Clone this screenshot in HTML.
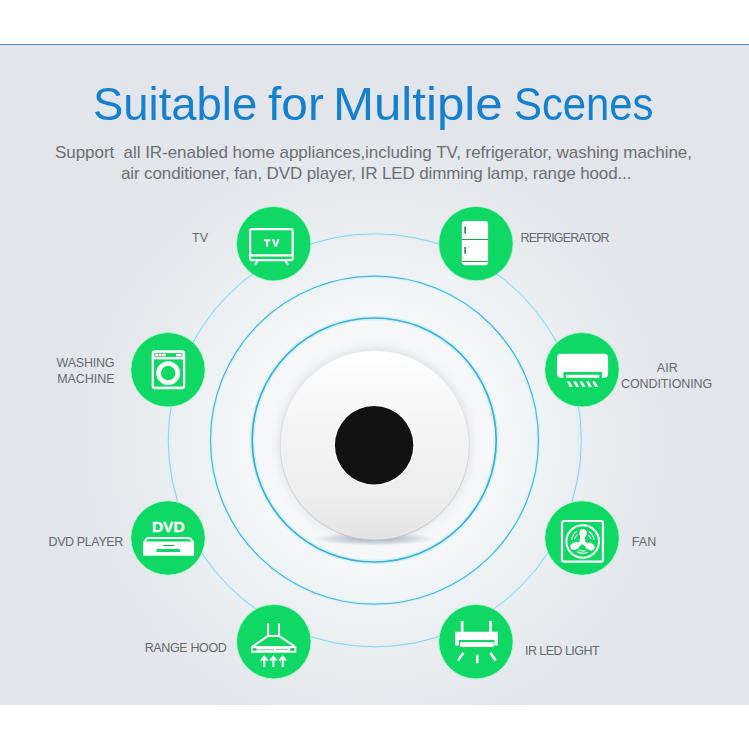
<!DOCTYPE html>
<html><head><meta charset="utf-8">
<style>
html,body{margin:0;padding:0;}
body{width:749px;height:749px;position:relative;overflow:hidden;background:#fff;font-family:"Liberation Sans",sans-serif;}
#band{position:absolute;left:0;top:44px;width:749px;height:661px;
 background:radial-gradient(circle at 374.5px 396px,#f7f9fa 0px,#f5f7f8 120px,#f0f3f5 165px,#eaeef0 210px,#e5e9ed 265px,#e2e6eb 330px);}
#line1{position:absolute;left:0;top:44px;width:749px;height:1px;background:#5a85a8;}
#line2{position:absolute;left:0;top:45px;width:749px;height:1px;background:#d2e9f6;}
svg{position:absolute;left:0;top:0;}
.t{position:absolute;white-space:nowrap;color:#157fd0;}
.tw{top:79px;font-size:46px;line-height:50px;transform-origin:0 0;}
.sub{position:absolute;white-space:nowrap;color:#6c6f72;font-size:17px;line-height:21px;}
.lab{position:absolute;white-space:nowrap;color:#66696c;font-size:12.5px;line-height:15px;}
</style></head><body>
<div id="band"></div>
<div id="line1"></div><div id="line2"></div>

<svg width="749" height="749" viewBox="0 0 749 749">
 <defs>
  <linearGradient id="disc" x1="0" y1="0" x2="0" y2="1">
   <stop offset="0" stop-color="#ffffff"/>
   <stop offset="0.35" stop-color="#f5f5f5"/>
   <stop offset="0.75" stop-color="#eeeeee"/>
   <stop offset="1" stop-color="#e4e4e4"/>
  </linearGradient>
  <radialGradient id="shadow" cx="50%" cy="50%" r="50%">
   <stop offset="0" stop-color="#7f98aa" stop-opacity="0.75"/>
   <stop offset="0.6" stop-color="#8ea5b5" stop-opacity="0.35"/>
   <stop offset="1" stop-color="#8ea5b5" stop-opacity="0"/>
  </radialGradient>
  <linearGradient id="rim" x1="0" y1="0" x2="0" y2="1">
   <stop offset="0" stop-color="#e6e6e6" stop-opacity="0.3"/>
   <stop offset="0.45" stop-color="#d4d4d4" stop-opacity="0.8"/>
   <stop offset="1" stop-color="#c2c2c2"/>
  </linearGradient>
  <filter id="blur6" x="-30%" y="-30%" width="160%" height="160%"><feGaussianBlur stdDeviation="5"/></filter>
 </defs>
 <!-- rings -->
 <g fill="none">
 <circle cx="374.8" cy="440.3" r="206.5" stroke="#d6f1fa" stroke-width="3"/>
 <circle cx="374.8" cy="440.3" r="206.5" stroke="#8ccbe6" stroke-width="0.9"/>
 <circle cx="374.5" cy="440.2" r="164" stroke="#d0f6fc" stroke-width="3.6"/>
 <circle cx="374.5" cy="440.2" r="164" stroke="#5caed2" stroke-width="1.2"/>
 <circle cx="374.2" cy="440" r="122" stroke="#cbf7fc" stroke-width="4.6"/>
 <circle cx="374.2" cy="440" r="122" stroke="#4aa9d2" stroke-width="1.7"/>
 </g>
 <!-- device -->
 <circle cx="374.7" cy="444.5" r="96" fill="#bcc2c7" opacity="0.4" filter="url(#blur6)"/>
 <ellipse cx="374.5" cy="538.8" rx="62" ry="6.5" fill="url(#shadow)"/>
 <circle cx="374.7" cy="445.4" r="94.6" fill="url(#disc)" stroke="url(#rim)" stroke-width="0.9"/>
 <circle cx="374.1" cy="445.3" r="40.4" fill="#ffffff"/>
 <circle cx="374.1" cy="445.3" r="39.2" fill="#121212"/>

 <!-- green circles -->
 <g fill="#10d865" stroke="#bdf6d6" stroke-width="0.8">
  <circle cx="273.7" cy="243.7" r="37.2"/>
  <circle cx="475.9" cy="243.6" r="37.2"/>
  <circle cx="168" cy="369.8" r="37.2"/>
  <circle cx="582" cy="369.8" r="37.2"/>
  <circle cx="168" cy="538" r="37.2"/>
  <circle cx="582" cy="538" r="37.2"/>
  <circle cx="273.8" cy="641.7" r="37.2"/>
  <circle cx="475.9" cy="641.7" r="37.2"/>
 </g>

 <!-- ICONS -->
 <g fill="none" stroke="#ffffff" stroke-linecap="butt">
  <!-- TV -->
  <rect x="250.1" y="229.2" width="42.6" height="31.0" rx="2" stroke-width="2.2"/>
  <line x1="250.1" y1="255.3" x2="292.7" y2="255.3" stroke-width="2.2"/>
  <line x1="257.5" y1="261" x2="254.9" y2="264.9" stroke-width="2"/>
  <line x1="285.3" y1="261" x2="288.1" y2="264.9" stroke-width="2"/>
 </g>
 <path fill="#fff" d="M263.9,239.3 H270.4 V241.3 H268.2 V246.6 H266.1 V241.3 H263.9 Z"/>
 <path fill="#fff" d="M271.9,239.3 H274.2 L275.75,244 L277.3,239.3 H279.6 L276.9,246.6 H274.6 Z"/>

 <!-- Fridge -->
 <rect x="461.8" y="220.9" width="26.3" height="44.3" rx="3" fill="#fff"/>
 <rect x="461.8" y="238.9" width="26.3" height="1.1" fill="#2e9a5a"/>
 <rect x="462.5" y="260.9" width="25" height="1.1" fill="#2e9a5a"/>
 <rect x="464.2" y="226.4" width="1.8" height="7.2" fill="#3d9a62"/>
 <rect x="464.2" y="247" width="1.8" height="6.8" fill="#3d9a62"/>

 <!-- Washing machine -->
 <rect x="152.8" y="351.5" width="31.3" height="36.6" rx="2" fill="none" stroke="#fff" stroke-width="2.3"/>
 <rect x="152.8" y="357.2" width="31.3" height="2.2" fill="#fff"/>
 <rect x="152.8" y="386.6" width="31.3" height="1.8" fill="#fff"/>
 <rect x="153.8" y="352.6" width="29.4" height="4.7" fill="#fff"/>
 <g fill="#4aa672">
  <rect x="154.6" y="353.1" width="27.8" height="0.7"/>
  <rect x="154.6" y="356.1" width="27.8" height="0.7"/>
  <rect x="154.6" y="353.1" width="0.7" height="3.7"/>
  <rect x="158.1" y="353.1" width="0.6" height="3.7"/>
  <rect x="161.5" y="353.1" width="0.6" height="3.7"/>
  <rect x="181.7" y="353.1" width="0.7" height="3.7"/>
 </g>
 <rect x="165.6" y="353.4" width="10.4" height="3.2" fill="#10d865"/>
 <circle cx="168.2" cy="373.1" r="9.6" fill="none" stroke="#fff" stroke-width="4.7"/>

 <!-- AC -->
 <path fill="#fff" fill-rule="evenodd" d="M561,353.8 H604.1 Q608.1,353.8 608.1,357.8 V373.8 Q608.1,377.8 604.1,377.8 H601.9 V371.9 H563.4 V377.8 H561 Q557,377.8 557,373.8 V357.8 Q557,353.8 561,353.8 Z"/>
 <rect x="566.2" y="374.8" width="33.1" height="3" fill="#fff"/>
 <g fill="#fff">
  <polygon points="566.8,381.5 569.7,381.5 572.7,387.1 569.8,387.1"/>
  <polygon points="573.2,381.5 576.1,381.5 579.1,387.1 576.2,387.1"/>
  <polygon points="579.6,381.5 582.5,381.5 585.5,387.1 582.6,387.1"/>
  <polygon points="586.0,381.5 588.9,381.5 591.9,387.1 589.0,387.1"/>
  <polygon points="592.2,381.5 595.1,381.5 598.1,387.1 595.2,387.1"/>
  </g>

 <!-- DVD -->
 <text x="151.9" y="532.1" fill="#fff" stroke="#fff" stroke-width="0.3" font-family="Liberation Sans" font-weight="bold" font-size="15.5" textLength="32.8" lengthAdjust="spacingAndGlyphs">DVD</text>
 <path fill="#fff" d="M148.5,537.1 H188.6 Q190.5,537.1 191.6,538.6 L194.1,541.7 V555.7 H143.1 V541.7 L145.6,538.6 Q146.7,537.1 148.5,537.1 Z"/>
 <path fill="#10d865" d="M149,538.9 H188.2 Q189.5,538.9 190.3,539.9 L191.6,541.6 H145.6 L146.9,539.9 Q147.7,538.9 149,538.9 Z"/>
 <rect x="163.2" y="544.9" width="10.9" height="1.1" fill="#2e9a5a"/>
 <rect x="156.3" y="549.1" width="24" height="3" rx="1.5" fill="#10d865"/>

 <!-- Fan -->
 <rect x="562" y="521" width="41" height="40.7" rx="2.2" fill="none" stroke="#fff" stroke-width="2.2"/>
 <circle cx="582.7" cy="541.5" r="16.3" fill="none" stroke="#fff" stroke-width="2"/>
 <g fill="#fff">
  <ellipse cx="583.1" cy="533.3" rx="3.7" ry="4.2" transform="rotate(8 583.1 533.3)"/>
  <ellipse cx="574.9" cy="546" rx="4.6" ry="3.5" transform="rotate(-25 574.9 546)"/>
  <ellipse cx="590.3" cy="546.6" rx="4.6" ry="3.5" transform="rotate(28 590.3 546.6)"/>
  <circle cx="582.4" cy="541" r="2.9"/>
  <path d="M580.2,534.5 Q580.6,538.5 579.6,541 L585.2,541 Q584.2,538.5 586.2,534.5 Z"/>
  <path d="M576.5,543.2 Q579.5,542.8 581,540 L583.2,543.5 Q579.8,545.5 578,548.6 Z"/>
  <path d="M588.8,543.6 Q585.5,543.2 583.6,540 L581.6,543.6 Q585.2,546 587,549.3 Z"/>
 </g>
 <g fill="none" stroke="#fff" stroke-width="1.1">
  <path d="M571.7,540 A11.5,11.5 0 0 1 576.9,531.4"/>
  <path d="M574.6,539 A8.5,8.5 0 0 1 577.5,534.6"/>
  <path d="M589,531.8 A11.5,11.5 0 0 1 594,540"/>
  <path d="M588.2,535 A8.5,8.5 0 0 1 591,539.2"/>
  <path d="M576.8,551.5 A12,12 0 0 0 587.5,552.3"/>
  <path d="M578.5,550 A9,9 0 0 0 585.5,550.5"/>
 </g>

 <!-- Range hood -->
 <g fill="none" stroke="#fff" stroke-width="2">
  <path d="M268.1,622.9 V635.9 H279 V622.9"/>
  <path d="M268.1,635.9 L252.5,646.5 M279,635.9 L294.8,646.5"/>
  <path d="M264.3,667 V657.5 M261,660.6 L264.3,656.8 L267.6,660.6"/>
  <path d="M273.4,667 V657.5 M270.1,660.6 L273.4,656.8 L276.7,660.6"/>
  <path d="M282.7,667 V657.5 M279.4,660.6 L282.7,656.8 L286,660.6"/>
 </g>
 <rect x="251.1" y="646.1" width="45.2" height="6.6" fill="#fff"/>
 <rect x="252.7" y="648.1" width="3.8" height="2.7" fill="#2fbf63"/>
 <rect x="290.2" y="648.1" width="4.3" height="2.7" fill="#2fbf63"/>
 <rect x="257.2" y="649.4" width="17" height="0.8" fill="#6fae88"/>
 <rect x="276" y="648.9" width="12.3" height="0.8" fill="#5ea57c"/>

 <!-- IR LED light -->
 <g fill="#fff">
  <rect x="460.8" y="620.9" width="2.7" height="11.5"/>
  <rect x="489.2" y="620.9" width="2.7" height="11.5"/>
  <path d="M455.2,631.7 H497.9 V645.6 H494.4 V640 H459 V645.6 H455.2 Z"/>
  <rect x="460.1" y="642.1" width="33.6" height="4.9" rx="0.8"/>
 </g>
 <g stroke="#fff" stroke-width="2.5" fill="none">
  <line x1="463.4" y1="652.8" x2="458" y2="660.5"/>
  <line x1="477.2" y1="654.6" x2="477.2" y2="663.3"/>
  <line x1="490.4" y1="652.8" x2="495.6" y2="660.5"/>
 </g>
</svg>

<div class="t tw" style="left:93.1px;transform:scaleX(0.988);">Suitable</div>
<div class="t tw" style="left:268.1px;transform:scaleX(1.04);">for</div>
<div class="t tw" style="left:333.3px;transform:scaleX(1.07);">Multiple</div>
<div class="t tw" style="left:514.0px;transform:scaleX(0.909);">Scenes</div>
<div class="sub" style="left:55px;top:142px;letter-spacing:-0.045px;">Support&nbsp; all IR-enabled home appliances,including TV, refrigerator, washing machine,</div>
<div class="sub" style="left:121px;top:163px;letter-spacing:-0.125px;">air conditioner, fan, DVD player, IR LED dimming lamp, range hood...</div>

<div class="lab" style="left:192px;top:230.5px;letter-spacing:0px;">TV</div>
<div class="lab" style="left:520.5px;top:230.8px;letter-spacing:-0.84px;">REFRIGERATOR</div>
<div class="lab" style="left:56.6px;top:356.0px;letter-spacing:-0.22px;">WASHING</div>
<div class="lab" style="left:57.2px;top:372.4px;letter-spacing:-0.05px;">MACHINE</div>
<div class="lab" style="left:656.8px;top:360.9px;letter-spacing:0.05px;">AIR</div>
<div class="lab" style="left:621.0px;top:377.3px;letter-spacing:-0.1px;">CONDITIONING</div>
<div class="lab" style="left:48.5px;top:534.9px;letter-spacing:-0.38px;">DVD PLAYER</div>
<div class="lab" style="left:631.7px;top:534.8px;letter-spacing:0.1px;">FAN</div>
<div class="lab" style="left:144.7px;top:640.8px;letter-spacing:-0.36px;">RANGE HOOD</div>
<div class="lab" style="left:525.0px;top:643.8px;letter-spacing:-0.55px;">IR LED LIGHT</div>
</body></html>
